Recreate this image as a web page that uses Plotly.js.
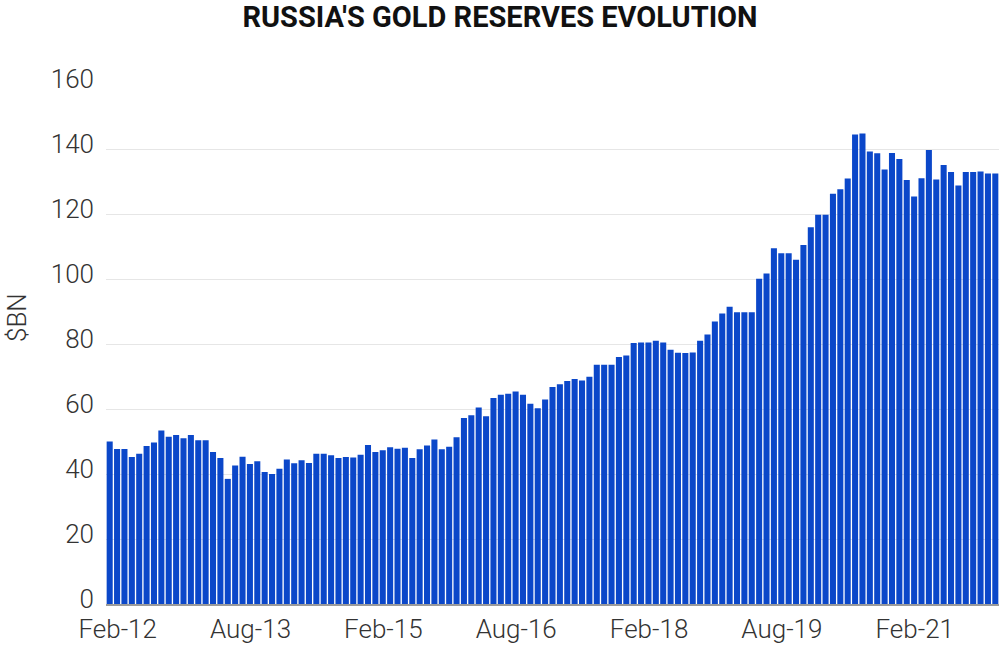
<!DOCTYPE html>
<html>
<head>
<meta charset="utf-8">
<script src="https://cdn.plot.ly/plotly-3.0.1.min.js"></script>
<style>
html,body{margin:0;padding:0;background:#fff;}
#chart{width:1000px;height:646px;}
</style>
</head>
<body>
<div id="chart"></div>
<script>
var months = [
  "Feb-12","Mar-12","Apr-12","May-12","Jun-12","Jul-12","Aug-12","Sep-12","Oct-12","Nov-12","Dec-12",
  "Jan-13","Feb-13","Mar-13","Apr-13","May-13","Jun-13","Jul-13","Aug-13","Sep-13","Oct-13","Nov-13","Dec-13",
  "Jan-14","Feb-14","Mar-14","Apr-14","May-14","Jun-14","Jul-14","Aug-14","Sep-14","Oct-14","Nov-14","Dec-14",
  "Jan-15","Feb-15","Mar-15","Apr-15","May-15","Jun-15","Jul-15","Aug-15","Sep-15","Oct-15","Nov-15","Dec-15",
  "Jan-16","Feb-16","Mar-16","Apr-16","May-16","Jun-16","Jul-16","Aug-16","Sep-16","Oct-16","Nov-16","Dec-16",
  "Jan-17","Feb-17","Mar-17","Apr-17","May-17","Jun-17","Jul-17","Aug-17","Sep-17","Oct-17","Nov-17","Dec-17",
  "Jan-18","Feb-18","Mar-18","Apr-18","May-18","Jun-18","Jul-18","Aug-18","Sep-18","Oct-18","Nov-18","Dec-18",
  "Jan-19","Feb-19","Mar-19","Apr-19","May-19","Jun-19","Jul-19","Aug-19","Sep-19","Oct-19","Nov-19","Dec-19",
  "Jan-20","Feb-20","Mar-20","Apr-20","May-20","Jun-20","Jul-20","Aug-20","Sep-20","Oct-20","Nov-20","Dec-20",
  "Jan-21","Feb-21","Mar-21","Apr-21","May-21","Jun-21","Jul-21","Aug-21","Sep-21","Oct-21","Nov-21","Dec-21",
  "Jan-22","Feb-22"
];
var goldReserves = [
  50.0,47.7,47.7,45.2,46.2,48.6,49.7,53.4,51.5,52.0,51.0,
  52.0,50.4,50.4,46.8,44.9,38.5,42.6,45.3,43.1,43.9,40.6,40.0,
  41.6,44.5,43.3,44.2,43.4,46.2,46.2,45.8,44.9,45.2,45.1,45.9,
  48.9,46.8,47.3,48.2,47.8,48.1,44.9,47.6,48.8,50.6,47.6,48.4,
  51.3,57.2,58.1,60.5,57.8,63.4,64.4,64.7,65.4,64.4,61.6,60.2,
  62.9,66.8,67.6,68.6,69.2,68.8,69.9,73.6,73.6,73.6,76.0,76.5,
  80.3,80.5,80.5,81.0,80.5,78.2,77.3,77.2,77.4,81.0,82.9,86.9,
  89.4,91.5,89.8,89.8,89.8,100.1,101.7,109.5,107.9,107.9,105.9,110.5,
  115.9,119.8,119.8,126.2,127.6,130.9,144.5,144.8,139.2,138.7,133.7,138.8,
  136.9,130.5,125.4,131.0,139.7,130.6,135.1,132.9,128.8,132.9,132.9,133.1,
  132.5,132.5
];
var tickLabels = ["Feb-12","Aug-13","Feb-15","Aug-16","Feb-18","Aug-19","Feb-21"];
var yTicks = [0,20,40,60,80,100,120,140,160];

var trace = {
  type: "bar",
  x: months,
  y: goldReserves,
  marker: {color: "#0b47c9", line: {width: 0}},
  hoverinfo: "x+y"
};

var tickFont = {family: "Roboto, sans-serif", size: 26, color: "#333333", weight: 300};

var layout = {
  width: 1000,
  height: 646,
  margin: {l: 106, r: 1, t: 84, b: 42},
  paper_bgcolor: "#ffffff",
  plot_bgcolor: "#ffffff",
  bargap: 0.18,
  showlegend: false,
  font: {family: "Roboto, 'Open Sans', sans-serif", color: "#333333"},
  title: {
    text: "<b>RUSSIA'S GOLD RESERVES EVOLUTION</b>",
    font: {family: "Roboto, sans-serif", size: 29, color: "#111111"},
    x: 0.5, xanchor: "center", xref: "container",
    y: 0.974, yanchor: "middle"
  },
  xaxis: {
    type: "category",
    tickmode: "array",
    tickvals: tickLabels,
    ticktext: tickLabels,
    tickfont: tickFont,
    ticks: "",
    showgrid: false,
    showline: true,
    linecolor: "#9a9a9a",
    linewidth: 1.5,
    ticklabelstandoff: 1,
    ticklabelshift: 8,
    range: [-0.5, months.length - 0.5]
  },
  yaxis: {
    range: [0, 160],
    tickmode: "array",
    tickvals: yTicks,
    tickfont: tickFont,
    showgrid: true,
    gridcolor: "#e6e6e6",
    gridwidth: 1,
    zeroline: false,
    ticks: "",
    ticklabelstandoff: 11,
    ticklabelshift: -5
  },
  annotations: [{
    text: "$BN",
    textangle: -90,
    xref: "paper", yref: "paper",
    x: 0, y: 0.55,
    xanchor: "center", yanchor: "middle",
    xshift: -89,
    showarrow: false,
    font: tickFont
  }]
};

Plotly.newPlot("chart", [trace], layout, {displayModeBar: false, staticPlot: true});
</script>
</body>
</html>
